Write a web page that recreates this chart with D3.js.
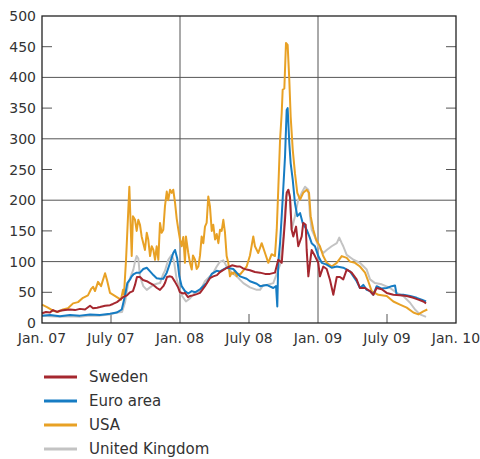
<!DOCTYPE html>
<html><head><meta charset="utf-8">
<script src="https://cdn.jsdelivr.net/npm/d3@7"></script>
<style>body{margin:0;background:#fff}svg{display:block}</style>
</head><body>
<svg id="c" width="480" height="459"></svg>
<script>
const xTickValues = [2007, 2007.5, 2008, 2008.5, 2009, 2009.5, 2010];
const xTickLabels = ["Jan. 07","July 07","Jan. 08","July 08","Jan. 09","July 09","Jan. 10"];
const yTickValues = [0,50,100,150,200,250,300,350,400,450,500];
const seriesNames = ["Sweden","Euro area","USA","United Kingdom"];
const seriesColors = ["#a5272f","#167cc3","#e8a125","#c3c3c3"];

// [decimal year, basis points]
const sweden = [[2007.000,16],[2007.029,18],[2007.058,17],[2007.080,21],[2007.109,18],[2007.130,20],[2007.167,21],[2007.203,22],[2007.239,21],[2007.275,23],[2007.312,22],[2007.348,28],[2007.370,24],[2007.399,25],[2007.420,26],[2007.457,28],[2007.493,29],[2007.514,31],[2007.543,34],[2007.565,38],[2007.587,42],[2007.616,45],[2007.638,50],[2007.659,52],[2007.674,62],[2007.688,75],[2007.710,75],[2007.732,70],[2007.759,68],[2007.783,65],[2007.807,62],[2007.833,57],[2007.855,54],[2007.879,60],[2007.891,65],[2007.906,75],[2007.928,76],[2007.942,75],[2007.964,67],[2007.986,58],[2008.000,50],[2008.022,48],[2008.036,49],[2008.058,42],[2008.072,44],[2008.094,45],[2008.121,47],[2008.145,49],[2008.181,60],[2008.217,73],[2008.241,76],[2008.268,78],[2008.290,83],[2008.312,86],[2008.341,90],[2008.377,94],[2008.413,92],[2008.435,92],[2008.457,89],[2008.483,87],[2008.507,86],[2008.543,83],[2008.580,82],[2008.616,80],[2008.652,80],[2008.688,82],[2008.712,103],[2008.737,98],[2008.761,168],[2008.773,212],[2008.785,217],[2008.797,205],[2008.809,152],[2008.821,141],[2008.841,157],[2008.857,125],[2008.882,141],[2008.893,163],[2008.911,160],[2008.918,119],[2008.930,76],[2008.942,98],[2008.954,119],[2008.978,109],[2009.002,98],[2009.014,76],[2009.038,92],[2009.063,88],[2009.087,70],[2009.111,46],[2009.136,75],[2009.159,75],[2009.183,71],[2009.208,87],[2009.244,82],[2009.280,71],[2009.304,57],[2009.341,57],[2009.377,52],[2009.401,46],[2009.425,57],[2009.462,55],[2009.498,49],[2009.546,46],[2009.594,45],[2009.643,44],[2009.691,41],[2009.727,38],[2009.763,35],[2009.783,32]];

const euroArea = [[2007.000,12],[2007.058,13],[2007.130,11],[2007.203,13],[2007.275,12],[2007.348,14],[2007.420,13],[2007.493,15],[2007.541,17],[2007.578,22],[2007.601,44],[2007.618,65],[2007.638,71],[2007.650,76],[2007.662,79],[2007.686,82],[2007.710,82],[2007.734,88],[2007.759,90],[2007.783,84],[2007.807,78],[2007.831,73],[2007.855,72],[2007.879,72],[2007.904,82],[2007.928,98],[2007.951,114],[2007.964,119],[2007.980,105],[2007.995,76],[2008.012,60],[2008.036,52],[2008.060,48],[2008.085,52],[2008.109,50],[2008.145,55],[2008.193,65],[2008.230,80],[2008.266,85],[2008.290,84],[2008.338,90],[2008.386,88],[2008.435,76],[2008.483,72],[2008.507,68],[2008.556,64],[2008.580,60],[2008.628,62],[2008.676,57],[2008.696,60],[2008.705,27],[2008.712,98],[2008.725,130],[2008.737,174],[2008.749,222],[2008.761,271],[2008.773,347],[2008.780,350],[2008.792,293],[2008.802,260],[2008.817,233],[2008.833,195],[2008.850,174],[2008.870,179],[2008.889,163],[2008.918,152],[2008.937,141],[2008.954,130],[2008.978,125],[2009.002,109],[2009.027,98],[2009.063,95],[2009.099,90],[2009.136,92],[2009.183,90],[2009.232,84],[2009.280,68],[2009.304,57],[2009.328,62],[2009.353,54],[2009.377,52],[2009.401,46],[2009.425,60],[2009.462,56],[2009.498,57],[2009.534,60],[2009.558,61],[2009.570,46],[2009.618,46],[2009.667,44],[2009.715,41],[2009.751,38],[2009.783,35]];

const usa = [[2007.000,30],[2007.036,26],[2007.080,20],[2007.116,18],[2007.152,22],[2007.188,24],[2007.225,32],[2007.261,34],[2007.297,41],[2007.333,45],[2007.355,55],[2007.370,59],[2007.384,52],[2007.406,67],[2007.428,60],[2007.457,81],[2007.471,70],[2007.493,49],[2007.522,45],[2007.551,41],[2007.572,38],[2007.587,54],[2007.594,46],[2007.609,103],[2007.633,222],[2007.650,109],[2007.659,174],[2007.674,168],[2007.686,150],[2007.698,168],[2007.710,160],[2007.722,141],[2007.734,130],[2007.746,119],[2007.759,147],[2007.770,136],[2007.783,109],[2007.795,125],[2007.807,119],[2007.819,103],[2007.831,125],[2007.843,103],[2007.855,163],[2007.867,147],[2007.879,152],[2007.891,190],[2007.904,214],[2007.915,200],[2007.928,217],[2007.940,212],[2007.951,217],[2007.964,196],[2007.976,170],[2007.988,152],[2008.000,136],[2008.012,125],[2008.024,140],[2008.036,98],[2008.043,141],[2008.060,114],[2008.072,98],[2008.085,87],[2008.094,110],[2008.109,103],[2008.121,88],[2008.133,92],[2008.145,110],[2008.157,141],[2008.169,130],[2008.181,157],[2008.193,163],[2008.205,206],[2008.217,190],[2008.230,150],[2008.241,160],[2008.254,136],[2008.266,145],[2008.278,130],[2008.290,152],[2008.302,150],[2008.314,168],[2008.326,147],[2008.338,109],[2008.350,98],[2008.362,76],[2008.375,82],[2008.386,80],[2008.399,85],[2008.411,76],[2008.422,80],[2008.435,79],[2008.457,85],[2008.483,92],[2008.507,110],[2008.531,141],[2008.543,125],[2008.567,114],[2008.592,130],[2008.616,114],[2008.640,98],[2008.664,112],[2008.688,109],[2008.701,152],[2008.712,217],[2008.725,298],[2008.737,342],[2008.744,380],[2008.756,382],[2008.768,456],[2008.780,453],[2008.792,396],[2008.802,336],[2008.817,282],[2008.833,244],[2008.850,212],[2008.870,201],[2008.893,212],[2008.918,217],[2008.935,212],[2008.947,174],[2008.966,152],[2008.986,136],[2009.014,125],[2009.038,109],[2009.063,98],[2009.099,92],[2009.136,98],[2009.172,109],[2009.208,106],[2009.232,100],[2009.268,98],[2009.304,92],[2009.341,82],[2009.364,68],[2009.389,52],[2009.437,46],[2009.498,44],[2009.546,35],[2009.594,30],[2009.643,25],[2009.691,17],[2009.727,14],[2009.763,19],[2009.792,22]];

const unitedKingdom = [[2007.000,12],[2007.058,11],[2007.130,10],[2007.203,11],[2007.275,10],[2007.348,12],[2007.420,12],[2007.493,14],[2007.543,17],[2007.580,18],[2007.601,33],[2007.625,65],[2007.650,80],[2007.662,87],[2007.674,100],[2007.686,109],[2007.698,105],[2007.710,76],[2007.734,60],[2007.759,54],[2007.783,58],[2007.807,62],[2007.831,64],[2007.855,65],[2007.879,80],[2007.891,85],[2007.915,103],[2007.940,111],[2007.957,100],[2007.976,71],[2007.988,62],[2008.000,49],[2008.022,42],[2008.043,35],[2008.072,40],[2008.109,50],[2008.145,52],[2008.181,68],[2008.217,76],[2008.241,82],[2008.266,92],[2008.290,100],[2008.314,102],[2008.338,92],[2008.375,82],[2008.411,76],[2008.459,65],[2008.507,58],[2008.556,54],[2008.580,54],[2008.604,62],[2008.628,62],[2008.676,65],[2008.712,87],[2008.725,95],[2008.749,141],[2008.768,206],[2008.785,217],[2008.797,205],[2008.809,152],[2008.833,174],[2008.857,201],[2008.882,212],[2008.906,222],[2008.930,217],[2008.942,174],[2008.954,152],[2008.978,140],[2009.002,125],[2009.038,114],[2009.063,119],[2009.099,125],[2009.136,130],[2009.154,139],[2009.172,130],[2009.183,125],[2009.208,111],[2009.257,103],[2009.304,98],[2009.353,87],[2009.377,71],[2009.413,65],[2009.462,63],[2009.522,57],[2009.570,49],[2009.618,44],[2009.667,33],[2009.703,22],[2009.739,14],[2009.783,10]];

const seriesData = [sweden, euroArea, usa, unitedKingdom];

const svg = d3.select("#c");
const L = 42, R = 456, T = 16, B = 323;
const x = d3.scaleLinear().domain([2007, 2010]).range([L, R]);
const y = d3.scaleLinear().domain([0, 500]).range([B, T]);
const font = "'DejaVu Sans', sans-serif";
const ink = "#333";

// gridlines
const g = svg.append("g");
g.selectAll("line.hg").data(yTickValues.filter(v => v % 100 === 0 && v > 0 && v < 500)).join("line")
  .attr("x1", L).attr("x2", R).attr("y1", d => y(d)).attr("y2", d => y(d))
  .attr("stroke", "#555").attr("stroke-width", 1);
g.selectAll("line.vg").data(xTickValues.filter(v => v % 1 === 0 && v > 2007 && v < 2010)).join("line")
  .attr("y1", T).attr("y2", B).attr("x1", d => x(d)).attr("x2", d => x(d))
  .attr("stroke", "#555").attr("stroke-width", 1);

// inward minor ticks
const oddY = yTickValues.filter(v => v % 100 === 50);
g.selectAll("line.lt").data(oddY).join("line")
  .attr("x1", L).attr("x2", L + 10).attr("y1", d => y(d)).attr("y2", d => y(d))
  .attr("stroke", "#555");
g.selectAll("line.rt").data(oddY).join("line")
  .attr("x1", R - 10).attr("x2", R).attr("y1", d => y(d)).attr("y2", d => y(d))
  .attr("stroke", "#555");
g.selectAll("line.bt").data(xTickValues.filter(v => v % 1 !== 0)).join("line")
  .attr("x1", d => x(d)).attr("x2", d => x(d)).attr("y1", B).attr("y2", B - 9)
  .attr("stroke", "#555");

// series lines (UK drawn first, Sweden last)
const line = d3.line().x(d => x(d[0])).y(d => y(d[1]));
const order = [3, 2, 1, 0];
svg.append("g").selectAll("path").data(order).join("path")
  .attr("d", i => line(seriesData[i]))
  .attr("fill", "none").attr("stroke", i => seriesColors[i])
  .attr("stroke-width", 2).attr("stroke-linejoin", "round");

// frame
svg.append("rect").attr("x", L).attr("y", T).attr("width", R - L).attr("height", B - T)
  .attr("fill", "none").attr("stroke", "#222").attr("stroke-width", 1.3);

// y labels
svg.append("g").selectAll("text").data(yTickValues).join("text")
  .attr("x", L - 6).attr("y", d => y(d)).attr("dy", "0.36em")
  .attr("text-anchor", "end").attr("font-family", font).attr("font-size", 14)
  .attr("fill", ink).text(d => d);

// x labels
svg.append("g").selectAll("text").data(xTickValues).join("text")
  .attr("x", d => x(d)).attr("y", 343)
  .attr("text-anchor", "middle").attr("font-family", font).attr("font-size", 14)
  .attr("fill", ink).text((d, i) => xTickLabels[i]);

// legend
const lg = svg.append("g").selectAll("g").data(seriesNames).join("g")
  .attr("transform", (d, i) => `translate(0,${377 + i * 24})`);
lg.append("line").attr("x1", 44).attr("x2", 77).attr("y1", 0).attr("y2", 0)
  .attr("stroke", (d, i) => seriesColors[i]).attr("stroke-width", 3);
lg.append("text").attr("x", 89).attr("dy", "0.36em")
  .attr("font-family", font).attr("font-size", 15).attr("fill", ink).text(d => d);
</script>
</body></html>
